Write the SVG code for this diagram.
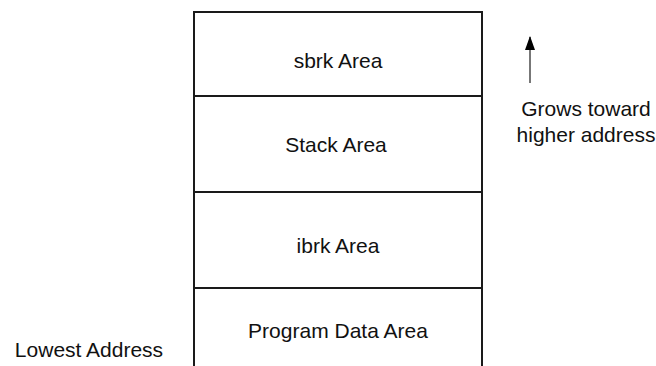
<svg xmlns="http://www.w3.org/2000/svg" width="656" height="366" viewBox="0 0 656 366">
<style>
.box{fill:#fff;stroke:#1a1a1a;stroke-width:2}
.t{font-family:"Liberation Sans",Arial,sans-serif;font-size:21px;fill:#111;text-anchor:middle}
</style>
<defs>
<marker id="ah" markerWidth="14" markerHeight="10" refX="13" refY="5" orient="auto" markerUnits="userSpaceOnUse" viewBox="0 0 14 10">
<path d="M0,0 L14,5 L0,10 Z" fill="#000"/>
</marker>
</defs>
<rect width="656" height="366" fill="#fff"/>
<g id="sbrk"><rect class="box" x="194" y="12" width="288" height="84"/><text class="t" x="338" y="68">sbrk Area</text></g>
<g id="stack"><rect class="box" x="194" y="96" width="288" height="96"/><text class="t" x="336" y="152">Stack Area</text></g>
<g id="ibrk"><rect class="box" x="194" y="192" width="288" height="96"/><text class="t" x="338" y="253">ibrk Area</text></g>
<g id="program"><rect class="box" x="194" y="288" width="288" height="90"/><text class="t" x="338" y="338">Program Data Area</text></g>
<g id="connectors">
<line x1="530" y1="83" x2="530" y2="37" stroke="#777" stroke-width="2" marker-end="url(#ah)"/>
</g>
<g id="grows"><text class="t" x="586" y="116">Grows toward</text><text class="t" x="586" y="142">higher address</text></g>
<g id="lowest"><text class="t" x="89" y="357">Lowest Address</text></g>
</svg>
